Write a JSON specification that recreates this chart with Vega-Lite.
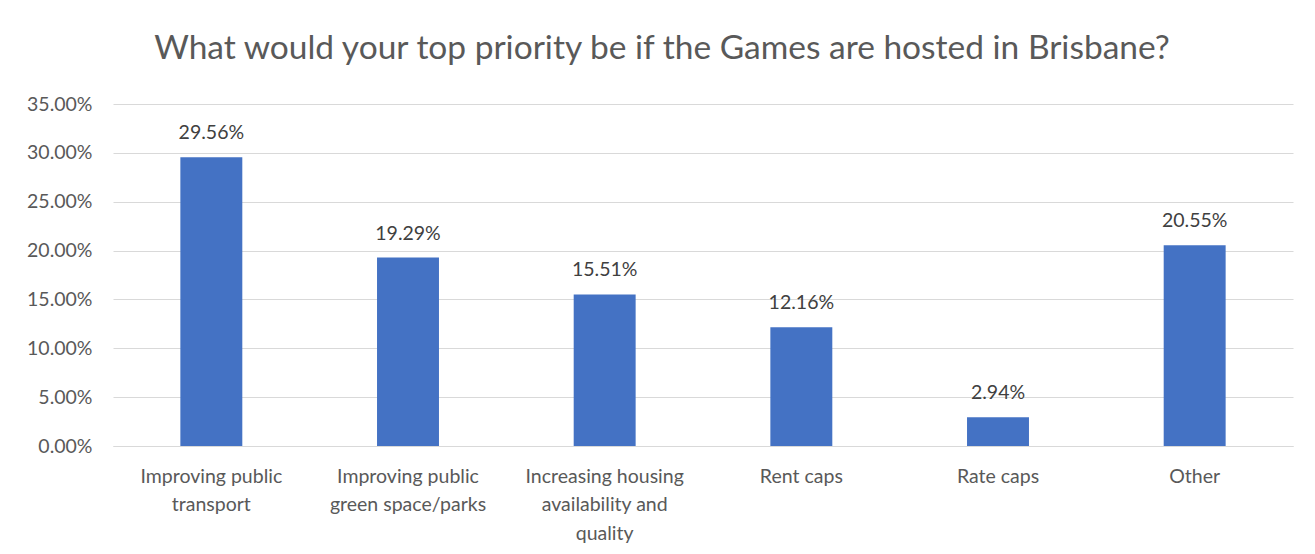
{
  "$schema": "https://vega.github.io/schema/vega-lite/v6.json",
  "width": 1180,
  "height": 342,
  "autosize": {"type": "none"},
  "padding": {"left": 113, "top": 104, "right": 22, "bottom": 108},
  "background": "white",
  "title": {
    "text": "What would your top priority be if the Games are hosted in Brisbane?",
    "font": "Lato",
    "fontSize": 33.5,
    "fontWeight": "normal",
    "color": "#595959",
    "anchor": "middle",
    "dx": -41,
    "offset": 28
  },
  "data": {
    "values": [
      {"priority": "Improving public|transport", "share": 0.2956},
      {"priority": "Improving public|green space/parks", "share": 0.1929},
      {"priority": "Increasing housing|availability and|quality", "share": 0.1551},
      {"priority": "Rent caps", "share": 0.1216},
      {"priority": "Rate caps", "share": 0.0294},
      {"priority": "Other", "share": 0.2055}
    ]
  },
  "encoding": {
    "x": {
      "field": "priority",
      "type": "nominal",
      "sort": null,
      "scale": {"paddingInner": 0.685, "paddingOuter": 0.3425},
      "axis": {
        "title": null,
        "labelAngle": 0,
        "labelExpr": "split(datum.label, '|')",
        "labelFont": "Lato",
        "labelFontSize": 19.5,
        "labelColor": "#595959",
        "labelLineHeight": 28.5,
        "labelPadding": 21,
        "ticks": false,
        "domainColor": "#d9d9d9",
        "domainWidth": 1,
        "labelLimit": 300
      }
    },
    "y": {
      "field": "share",
      "type": "quantitative",
      "scale": {"domain": [0, 0.35], "nice": false},
      "axis": {
        "title": null,
        "format": ".2%",
        "values": [0, 0.05, 0.1, 0.15, 0.2, 0.25, 0.3, 0.35],
        "labelFont": "Lato",
        "labelFontSize": 19.5,
        "labelColor": "#595959",
        "labelPadding": 21,
        "ticks": false,
        "domain": false,
        "gridColor": "#d9d9d9",
        "gridWidth": 1
      }
    }
  },
  "layer": [
    {"mark": {"type": "bar", "color": "#4472C4"}},
    {
      "mark": {"type": "text", "baseline": "bottom", "dy": -14, "font": "Lato", "fontSize": 19.5, "color": "#404040"},
      "encoding": {"text": {"field": "share", "type": "quantitative", "format": ".2%"}}
    }
  ],
  "config": {"view": {"stroke": null}}
}
